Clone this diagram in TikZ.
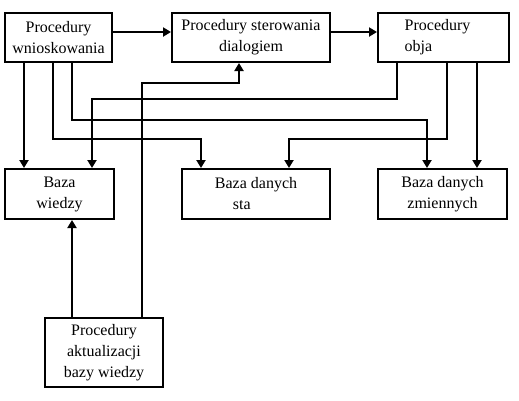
\documentclass[tikz,border=0pt]{standalone}
\usepackage{fontspec}
\setmainfont{Liberation Serif}
\usetikzlibrary{arrows.meta}
\begin{document}
\begin{tikzpicture}[x=1pt,y=-1pt,
  box/.style={draw,line width=2pt,inner sep=0pt,align=center,font=\fontsize{16}{21}\selectfont},
  arr/.style={line width=2pt,-{Triangle[width=9pt,length=8pt]}},
  ln/.style={line width=2pt}]
\useasboundingbox (0,0) rectangle (519,400);
\node[box,minimum width=107pt,minimum height=49pt] (pw) at (58.5,37.5) {Procedury\\wnioskowania};
\node[box,minimum width=158pt,minimum height=49pt] (psd) at (251,37.5) {Procedury sterowania\\dialogiem};
\node[box,minimum width=131pt,minimum height=49pt,align=left] (po) at (443.5,37.5) {Procedury\\obja\hspace*{50pt}};
\node[box,minimum width=109pt,minimum height=50pt] (bw) at (59.5,194) {Baza\\wiedzy};
\node[box,minimum width=148pt,minimum height=50pt,align=left] (bds) at (256,194) {Baza danych\\\hspace*{18pt}sta};
\node[box,minimum width=129pt,minimum height=50pt] (bdz) at (442.5,194) {Baza danych\\zmiennych};
\node[box,minimum width=118pt,minimum height=69pt] (pa) at (104,352.5) {Procedury\\aktualizacji\\bazy wiedzy};
% top horizontal arrows
\draw[arr] ([yshift=5.5pt]pw.east) -- ([yshift=5.5pt]psd.west);
\draw[arr] ([yshift=5.5pt]psd.east) -- ([yshift=5.5pt]po.west);
% from Procedury wnioskowania
\draw[arr] ([xshift=20pt]pw.south west) -- ([xshift=20pt]bw.north west);
\draw[arr] ([xshift=49pt]pw.south west) |- ([xshift=20pt,yshift=29pt]bds.north west) -- ([xshift=20pt]bds.north west);
\draw[arr] ([xshift=68pt]pw.south west) |- ([xshift=50pt,yshift=48pt]bdz.north west) -- ([xshift=50pt]bdz.north west);
% from Procedury obja
\draw[arr] ([xshift=20pt]po.south west) |- ([xshift=88pt,yshift=69pt]bw.north west) -- ([xshift=88pt]bw.north west);
\draw[arr] ([xshift=70pt]po.south west) |- ([xshift=108pt,yshift=29pt]bds.north west) -- ([xshift=108pt]bds.north west);
\draw[arr] ([xshift=100pt]po.south west) -- ([xshift=100pt]bdz.north west);
% from Procedury aktualizacji
\draw[arr] ([xshift=28pt]pa.north west) -- ([xshift=68pt]bw.south west);
\draw[arr] ([xshift=98pt]pa.north west) |- ([xshift=68pt,yshift=-20pt]psd.south west) -- ([xshift=68pt]psd.south west);
\end{tikzpicture}
\end{document}
